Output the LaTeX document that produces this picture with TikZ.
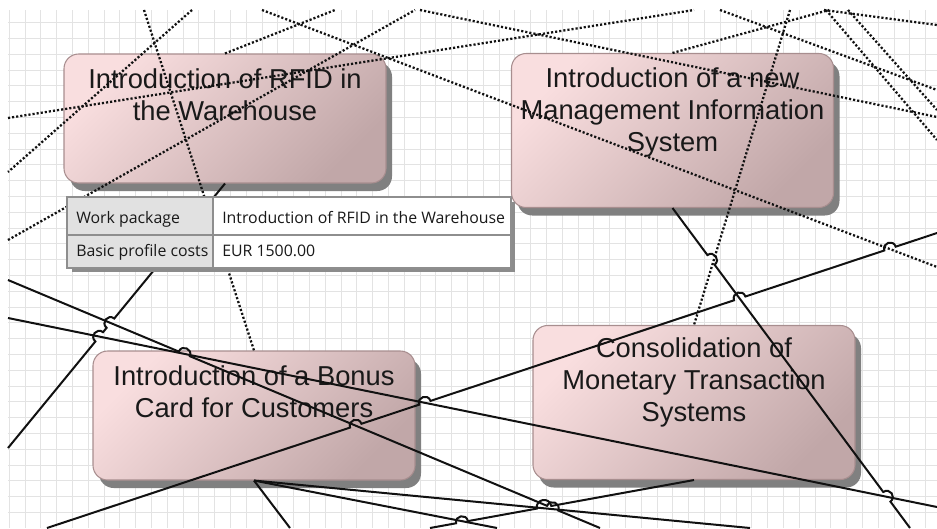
\documentclass[tikz,border=0pt]{standalone}
\usepackage{fontspec}
\setmainfont{Liberation Sans}
\newfontfamily\boxfont{Liberation Sans}
\newfontfamily\cellfont{Open Sans}
\usetikzlibrary{positioning,calc,shadows}

\definecolor{boxlight}{HTML}{F9DEDF}
\definecolor{boxdark}{HTML}{C1A7A8}
\definecolor{boxedge}{HTML}{A88E8F}
\definecolor{gridgray}{HTML}{E3E3E3}
\definecolor{cellgray}{HTML}{E1E1E1}
\definecolor{celledge}{HTML}{8E8E8E}
\definecolor{inkline}{HTML}{111111}

\tikzset{
  wpbox/.style={rectangle, rounded corners=11pt, draw=boxedge, line width=0.8pt,
    top color=boxlight, bottom color=boxdark, shading angle=45,
    minimum width=241.5pt, minimum height=96.75pt,
    drop shadow={shadow xshift=4.5pt, shadow yshift=-6pt, fill=black!50, opacity=1}},
  wptext/.style={font=\boxfont\fontsize{20.5}{24}\selectfont, align=center, inner sep=0pt, text=black!90},
  gridline/.style={draw=gridgray, line width=0.75pt},
  wire/.style={draw=inkline, line width=1.5pt},
  dotwire/.style={draw=inkline, line width=1.7pt, dash pattern=on 1.6pt off 1.5pt},
  hopover/.style={bend left=90, looseness=1.7},
  cellhead/.style={rectangle, draw=celledge, line width=1.5pt, fill=cellgray, minimum width=109.5pt},
  cellbody/.style={cellhead, fill=white, minimum width=223.5pt},
  celltext/.style={font=\cellfont\fontsize{11.9}{13}\selectfont, text=black!90, inner sep=0pt, anchor=base west}
}

\begin{document}
\begin{tikzpicture}[x=0.75pt, y=-0.75pt]
  \useasboundingbox (0,0) rectangle (937,528);

  % Grid
  \foreach \gx in {0,...,58}
    \draw[gridline] ({9.3+15.8*\gx},10) -- ({9.3+15.8*\gx},528);
  \foreach \gy in {0,...,31}
    \draw[gridline] (8,{22.7+15.8*\gy}) -- (937,{22.7+15.8*\gy});

  % Work packages
  \node[wpbox] (rfid) at (225,118.5) {};
  \node[wpbox, minimum height=115.5pt] (mis) at (672.5,130.5) {};
  \node[wpbox] (bonus) at (254,415.5) {};
  \node[wpbox, minimum height=115.5pt] (cons) at (694,402.5) {};

  \node[wptext, below=10.9pt of rfid.north] (rfidtxt) {Introduction of RFID in\\the Warehouse};
  \node[wptext, below=10.9pt of mis.north] (mistxt) {Introduction of a new\\Management Information\\System};
  \node[wptext, below=11.4pt of bonus.north] (bonustxt) {Introduction of a Bonus\\Card for Customers};
  \node[wptext, below=9.2pt of cons.north] (constxt) {Consolidation of\\Monetary Transaction\\Systems};

  % Free ends
  \coordinate (s1a) at (8,448);
  \coordinate (s2a) at (8,280);   \coordinate (s2b) at (600,528);
  \coordinate (s3a) at (8,318);   \coordinate (s3b) at (937,507);
  \coordinate (s4a) at (47,528);  \coordinate (s4b) at (937,233);
  \coordinate (s5a) at (290,528); \coordinate (s5b) at (750,528); \coordinate (s5c) at (497,528);
  \coordinate (s6a) at (430,528);
  \coordinate (s7b) at (910,528);
  \coordinate (d1a) at (144,10);
  \coordinate (d2a) at (192,10);  \coordinate (d2b) at (8,172);
  \coordinate (d3a) at (8,118);   \coordinate (d3b) at (694,10);
  \coordinate (d4a) at (8,240);   \coordinate (d4b) at (415,10);
  \coordinate (d5a) at (262,10);  \coordinate (d5b) at (937,267);
  \coordinate (d6b) at (335,10);
  \coordinate (d7a) at (420,10);  \coordinate (d7b) at (937,117);
  \coordinate (d8b) at (829,10);
  \coordinate (d9a) at (790,10);
  \coordinate (d10a) at (826,10); \coordinate (d10b) at (937,140);
  \coordinate (d11a) at (720,10); \coordinate (d11b) at (937,90);
  \coordinate (d12a) at (824,10); \coordinate (d12b) at (937,25);
  \coordinate (d13a) at (848,10); \coordinate (d13b) at (937,110);

  % Hops
  \coordinate (s1h1) at ($(s1a)!0.4204!(rfid.south)$);
  \coordinate (s1h2) at ($(s1a)!0.4721!(rfid.south)$);
  \coordinate (s2h1) at ($(s2a)!0.2978!(s2b)$);
  \coordinate (s2h2) at ($(s2a)!0.9200!(s2b)$);
  \coordinate (s4h1) at ($(s4a)!0.3469!(s4b)$);
  \coordinate (s4h2) at ($(s4a)!0.4245!(s4b)$);
  \coordinate (s4h3) at ($(s4a)!0.7783!(s4b)$);
  \coordinate (s4h4) at ($(s4a)!0.9472!(s4b)$);
  \coordinate (s6h1) at ($(s6a)!0.1212!(cons.south)$);
  \coordinate (s6h2) at ($(s6a)!0.4320!(cons.south)$);
  \coordinate (s7h1) at ($(mis.south)!0.1620!(s7b)$);
  \coordinate (s7h2) at ($(mis.south)!0.9025!(s7b)$);

  % Dotted dependencies
  \draw[dotwire] (d1a) -- (bonus.north);
  \draw[dotwire] (d2a) -- (d2b);
  \draw[dotwire] (d3a) -- (d3b);
  \draw[dotwire] (d4a) -- (d4b);
  \draw[dotwire] (d5a) -- (d5b);
  \draw[dotwire] (rfid.north) -- (d6b);
  \draw[dotwire] (d7a) -- (d7b);
  \draw[dotwire] (mis.north) -- (d8b);
  \draw[dotwire] (d9a) -- (cons.north);
  \draw[dotwire] (d10a) -- (d10b);
  \draw[dotwire] (d11a) -- (d11b);
  \draw[dotwire] (d12a) -- (d12b);
  \draw[dotwire] (d13a) -- (d13b);

  % Solid dependencies
  \draw[wire] (s1a) -- ($(s1h1)!4.5pt!(s1a)$) to[hopover] ($(s1h1)!4.5pt!(rfid.south)$)
    -- ($(s1h2)!4.5pt!(s1a)$) to[hopover] ($(s1h2)!4.5pt!(rfid.south)$) -- (rfid.south);
  \draw[wire] (s2a) -- ($(s2h1)!4.5pt!(s2a)$) to[hopover] ($(s2h1)!4.5pt!(s2b)$)
    -- ($(s2h2)!4.5pt!(s2a)$) to[hopover] ($(s2h2)!4.5pt!(s2b)$) -- (s2b);
  \draw[wire] (s3a) -- (s3b);
  \draw[wire] (s4a) -- ($(s4h1)!4.5pt!(s4a)$) to[hopover] ($(s4h1)!4.5pt!(s4b)$)
    -- ($(s4h2)!4.5pt!(s4a)$) to[hopover] ($(s4h2)!4.5pt!(s4b)$)
    -- ($(s4h3)!4.5pt!(s4a)$) to[hopover] ($(s4h3)!4.5pt!(s4b)$)
    -- ($(s4h4)!4.5pt!(s4a)$) to[hopover] ($(s4h4)!4.5pt!(s4b)$) -- (s4b);
  \draw[wire] (bonus.south) -- (s5a);
  \draw[wire] (bonus.south) -- (s5b);
  \draw[wire] (bonus.south) -- (s5c);
  \draw[wire] (s6a) -- ($(s6h1)!4.5pt!(s6a)$) to[hopover] ($(s6h1)!4.5pt!(cons.south)$)
    -- ($(s6h2)!5.5pt!(s6a)$) to[hopover] ($(s6h2)!5.5pt!(cons.south)$) -- (cons.south);
  \draw[wire] (mis.south) -- ($(s7h1)!4.5pt!(mis.south)$) to[hopover] ($(s7h1)!4.5pt!(s7b)$)
    -- ($(s7h2)!4.5pt!(mis.south)$) to[hopover] ($(s7h2)!4.5pt!(s7b)$) -- (s7b);

  % Tooltip
  \fill[black!45] (72,202) rectangle (515,272);
  \node[cellhead, minimum height=28.5pt] (wpcell) at (140,216) {};
  \node[cellbody, minimum height=28.5pt] (wpvalue) at (362,216) {};
  \node[cellhead, minimum height=24.75pt] (bpcell) at (140,251.5) {};
  \node[cellbody, minimum height=24.75pt] (bpvalue) at (362,251.5) {};
  \node[celltext] (wpname) at (76,223.5) {Work package};
  \node[celltext] (wptitle) at (222,223.5) {Introduction of RFID in the Warehouse};
  \node[celltext] (bpname) at (76,256.5) {Basic profile costs};
  \node[celltext] (bpcost) at (222,256.5) {EUR 1500.00};
\end{tikzpicture}
\end{document}
